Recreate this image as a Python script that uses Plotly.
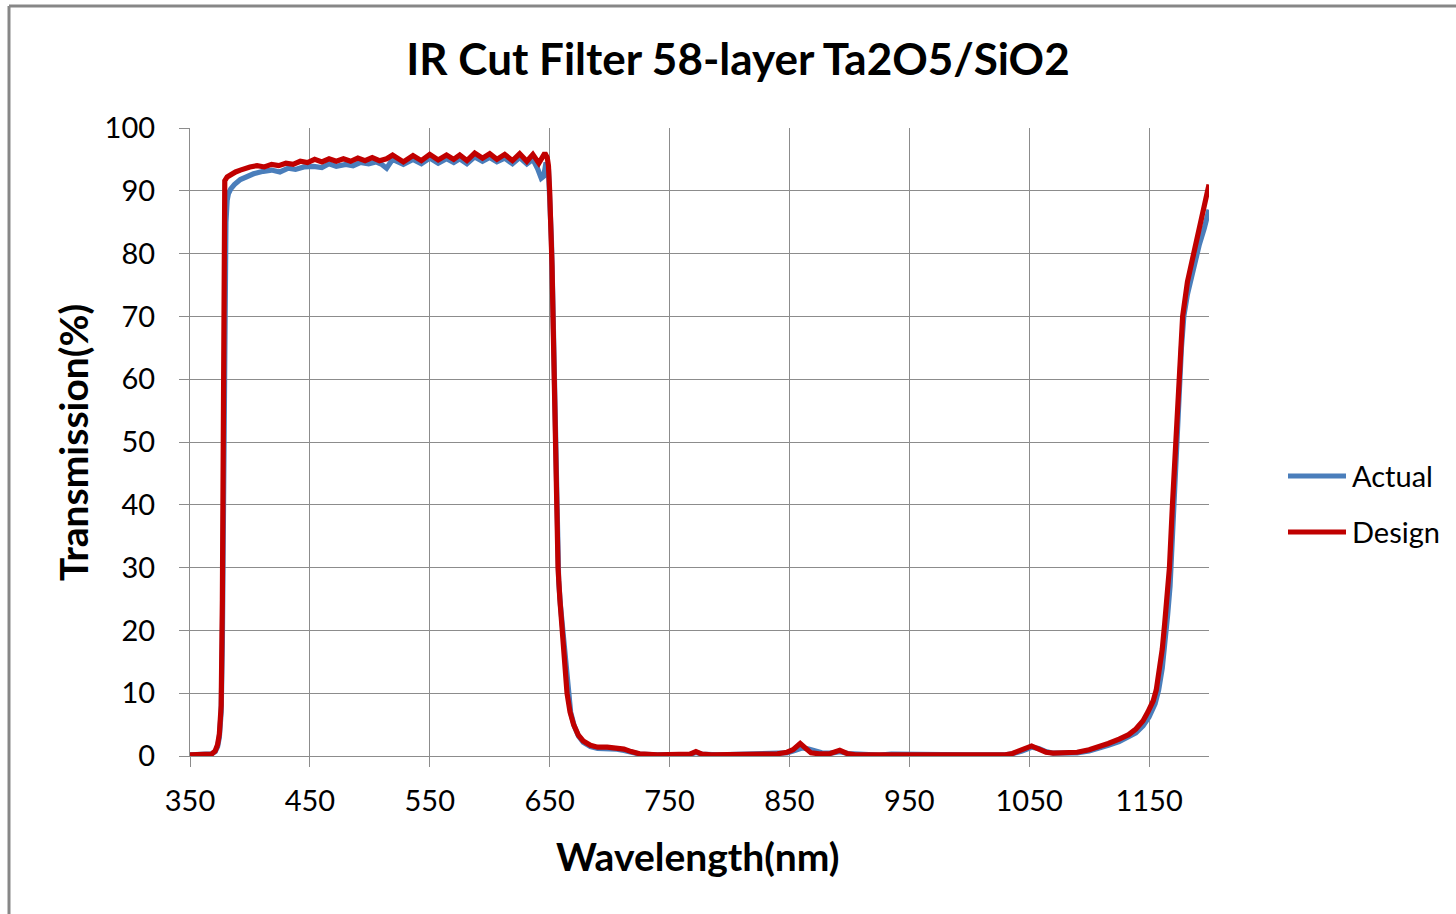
import plotly.graph_objects as go

# ---------------- data ----------------
wl_design = [350, 355, 360, 365, 368, 371, 373, 374.5, 376, 377, 377.8, 378.3, 379, 381, 384, 388, 392, 396, 400,
             406, 412, 418, 424, 430, 436, 442, 448, 454, 460, 466, 472, 478, 484, 490, 496, 502, 508, 514,
             519, 528, 536, 543, 550, 557, 564, 570, 575, 581, 587.5, 594, 600, 606, 612.5, 619, 625, 631, 636, 641,
             646, 648, 649, 650, 651, 652, 653, 654, 655, 656, 657, 658.5, 660.5, 662.5, 664.5, 667, 670, 674, 678,
             684, 690, 698, 706, 712, 718, 725, 740, 760, 767, 772, 777, 785, 800, 830, 840, 848, 853, 859, 864,
             868, 875, 884, 892, 898, 905, 950, 1000, 1030, 1036, 1044, 1052, 1058, 1064, 1070, 1080, 1090, 1100,
             1108, 1116, 1125, 1133, 1139, 1145, 1149, 1153.5, 1156, 1159, 1161, 1163, 1165, 1167, 1169.5, 1172,
             1174.8, 1178, 1182, 1186.5, 1192, 1196, 1200]
t_design = [0.2, 0.2, 0.2, 0.25, 0.3, 0.8, 1.8, 3.5, 8, 25, 70, 90.5, 91.6, 92.2, 92.6, 93.0, 93.3, 93.6, 93.8,
            94.0, 93.8, 94.2, 94.0, 94.4, 94.2, 94.7, 94.5, 95.0, 94.6, 95.1, 94.7, 95.1, 94.7, 95.2, 94.8, 95.3, 94.8, 95.1,
            95.7, 94.6, 95.6, 94.8, 95.8, 94.9, 95.7, 95.0, 95.7, 94.8, 96.0, 95.2, 95.9, 95.0, 95.8, 94.8, 95.9, 94.7, 95.8, 94.4,
            96.0, 95.3, 94.0, 90, 85, 78, 68, 57, 46, 37, 30, 25, 20, 14.5, 10, 7, 5, 3.3, 2.4,
            1.7, 1.4, 1.4, 1.3, 1.1, 0.7, 0.35, 0.2, 0.2, 0.3, 0.7, 0.3, 0.2, 0.2, 0.2, 0.35, 0.6, 1.0, 2.0, 1.0,
            0.5, 0.35, 0.4, 0.9, 0.4, 0.2, 0.15, 0.15, 0.2, 0.4, 0.9, 1.6, 1.1, 0.6, 0.45, 0.45, 0.6, 1.0,
            1.4, 2.0, 2.7, 3.4, 4.3, 5.6, 7.0, 8.8, 10.5, 13.7, 17, 21, 25, 30, 40, 50,
            60, 70, 75.5, 79.3, 84, 87.5, 91]

wl_actual = [350, 360, 365, 368, 371, 373, 374.5, 376, 377, 378, 379, 380, 381, 382, 384, 387, 392, 397, 403, 411,
             418, 425, 432, 438, 445, 453, 460, 466, 472, 480, 486, 492, 499, 505, 510, 514, 519, 528, 536, 543,
             550, 557, 564, 570, 575, 581, 587.5, 594, 600, 606, 612.5, 619, 625, 631, 636, 640, 643, 645, 647,
             649, 650.5, 651.5, 652.5, 653.5, 654.5, 655.5, 656.5, 657.5, 659, 661, 663, 665, 667.5, 670.5, 674,
             678, 684, 690, 698, 706, 712, 718, 725, 740, 760, 767, 772, 777, 790, 805, 815, 828, 840, 848, 855,
             861, 866, 871, 877, 885, 892, 899, 910, 925, 935, 950, 965, 980, 1000, 1030, 1036, 1044, 1052, 1058,
             1064, 1070, 1080, 1090, 1100, 1108, 1116, 1125, 1133, 1139, 1145, 1150, 1155, 1158, 1161, 1163.5,
             1165.5, 1167.5, 1169.5, 1171, 1173, 1175, 1177, 1179, 1182, 1187, 1192, 1196, 1200]
t_actual = [0.2, 0.2, 0.3, 0.35, 0.7, 1.5, 3.0, 7, 18, 45, 75, 85, 88.5, 89.5, 90.3, 91.0, 91.8, 92.3, 92.7, 93.1,
            93.3, 93.0, 93.6, 93.4, 93.8, 93.9, 93.7, 94.3, 93.9, 94.2, 94.0, 94.5, 94.3, 94.6, 94.2, 93.6, 95.0, 94.2, 95.0, 94.3,
            95.2, 94.4, 95.1, 94.5, 95.1, 94.3, 95.4, 94.7, 95.3, 94.6, 95.2, 94.3, 95.3, 94.3, 95.0, 93.5, 92.0, 92.3, 94.5,
            93.5, 88, 82, 74, 63, 52, 42, 34, 28, 24, 20, 14.5, 10, 7, 4.8, 3.2,
            2.2, 1.5, 1.2, 1.2, 1.1, 0.9, 0.6, 0.3, 0.2, 0.2, 0.25, 0.55, 0.3, 0.2, 0.3, 0.35, 0.3, 0.4, 0.5, 0.9,
            1.3, 1.1, 0.8, 0.5, 0.45, 0.7, 0.4, 0.3, 0.15, 0.3, 0.25, 0.3, 0.2, 0.2, 0.2, 0.35, 0.8, 1.4, 1.2,
            0.7, 0.45, 0.4, 0.5, 0.8, 1.2, 1.7, 2.3, 3.0, 3.7, 4.8, 6.2, 8.3, 10.5, 14, 18,
            22.5, 27, 34, 40, 48, 57, 65, 70, 73.5, 78, 81.5, 84, 87]

x_ticks = [350, 450, 550, 650, 750, 850, 950, 1050, 1150]
y_ticks = [0, 10, 20, 30, 40, 50, 60, 70, 80, 90, 100]

series_names = ["Actual", "Design"]
series_colors = ["#4a7ebb", "#c00000"]

title_text = "IR Cut Filter 58-layer Ta2O5/SiO2"
x_title = "Wavelength(nm)"
y_title = "Transmission(%)"

# ---------------- figure ----------------
W, H = 1456, 914
L, R, T, B = 190, 1209, 128, 756
FONT = "Lato"
GRID = "#8c8c8c"
LW = 5.2

fig = go.Figure()
fig.add_trace(go.Scatter(x=wl_actual, y=t_actual, mode="lines", name=series_names[0],
                         line=dict(color=series_colors[0], width=LW)))
fig.add_trace(go.Scatter(x=wl_design, y=t_design, mode="lines", name=series_names[1],
                         line=dict(color=series_colors[1], width=LW)))

fig.update_layout(
    width=W, height=H,
    margin=dict(l=L, r=W - R, t=T, b=H - B, autoexpand=False),
    paper_bgcolor="white", plot_bgcolor="white",
    font=dict(family=FONT, color="black"),
    title=dict(text=title_text, x=(738) / W, xref="container", xanchor="center",
               y=1 - 60 / H, yref="container", yanchor="middle",
               font=dict(family=FONT, size=44, color="black", weight="bold")),
    showlegend=False,
)
fig.update_xaxes(range=[350, 1200], tickvals=x_ticks, ticktext=[str(v) for v in x_ticks],
                 showgrid=True, gridcolor=GRID, gridwidth=1.3,
                 showline=True, linecolor=GRID, linewidth=1.3,
                 ticks="outside", ticklen=10, tickcolor=GRID, tickwidth=1.3,
                 tickfont=dict(size=29, family=FONT), ticklabelstandoff=9, zeroline=False)
fig.update_yaxes(range=[0, 100], tickvals=y_ticks,
                 showgrid=True, gridcolor=GRID, gridwidth=1.3,
                 showline=True, linecolor=GRID, linewidth=1.3,
                 ticks="outside", ticklen=10, tickcolor=GRID, tickwidth=1.3,
                 tickfont=dict(size=29, family=FONT), ticklabelstandoff=18, zeroline=False)

pw, ph = R - L, B - T
def px_x(p):
    return (p - L) / pw
def px_y(p):
    return (B - p) / ph

# axis titles
fig.add_annotation(text=x_title, xref="paper", yref="paper", x=px_x(698), y=px_y(856),
                   showarrow=False, xanchor="center", yanchor="middle",
                   font=dict(size=39, family=FONT, weight="bold"))
fig.add_annotation(text=y_title, xref="paper", yref="paper", x=px_x(73), y=px_y(443),
                   showarrow=False, xanchor="center", yanchor="middle", textangle=-90,
                   font=dict(size=39, family=FONT, weight="bold"))

# legend (Excel style: long line sample followed by label)
legend_rows = [476, 532]
for name, color, yrow in zip(series_names, series_colors, legend_rows):
    fig.add_shape(type="line", xref="paper", yref="paper", x0=px_x(1288), x1=px_x(1346),
                  y0=px_y(yrow), y1=px_y(yrow), line=dict(color=color, width=LW))
    fig.add_annotation(text=name, xref="paper", yref="paper", x=px_x(1350), y=px_y(yrow - 1),
                       showarrow=False, xanchor="left", yanchor="middle",
                       font=dict(size=29, family=FONT, color="black"))

# chart frame (Excel-like border)
fig.add_shape(type="line", xref="paper", yref="paper", x0=px_x(9), x1=px_x(1470), y0=px_y(6), y1=px_y(6),
              line=dict(color="#878787", width=3))
fig.add_shape(type="line", xref="paper", yref="paper", x0=px_x(9), x1=px_x(9), y0=px_y(6), y1=px_y(930),
              line=dict(color="#878787", width=3))

fig.write_html("out.html")
